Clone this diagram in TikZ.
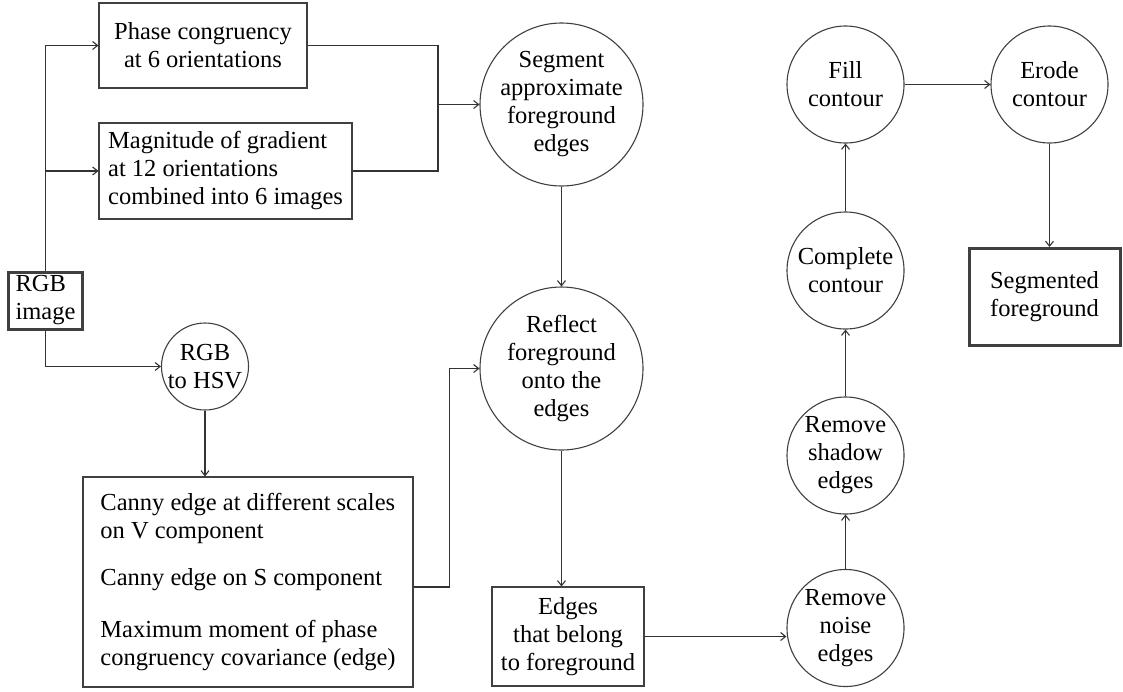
\documentclass[tikz,border=0pt]{standalone}
\usepackage{fontspec}
\setmainfont{Liberation Serif}
\usetikzlibrary{arrows.meta}
\begin{document}
\begin{tikzpicture}[x=1pt,y=-1pt,
  txt/.style={font=\fontsize{24.5}{28}\selectfont, text=black},
  box/.style={txt, draw=black!75, line width=1.1pt, inner sep=0pt, align=center},
  circ/.style={txt, draw=black!75, line width=1.1pt, circle, inner sep=0pt, align=center},
  conn/.style={draw=black!80, line width=1.1pt, -{Straight Barb[length=5pt,width=8pt]}},
  link/.style={draw=black!80, line width=1.1pt}
]
\useasboundingbox (0,0) rectangle (1123,691);

\node[box, minimum width=208, minimum height=85] (phase) at (203,45.5) {Phase congruency\\at 6 orientations};
\node[box, minimum width=253, minimum height=96, align=left] (mag) at (225.5,171) {Magnitude of gradient\\at 12 orientations\\combined into 6 images};
\node[box, line width=3pt, minimum width=74, minimum height=57, align=left] (rgb) at (45.5,300.5) {RGB\\image};
\node[box, minimum width=330, minimum height=210, align=left] (canny) at (248,582) {Canny edge at different scales\\on V component\\[19pt]Canny edge on S component\\[24pt]Maximum moment of phase\\congruency covariance (edge)};
\node[box, minimum width=152, minimum height=99] (edges) at (568,636.5) {Edges\\that belong\\to foreground};
\node[box, line width=3pt, minimum width=151, minimum height=97] (segf) at (1044.5,297) {Segmented\\foreground};

\node[circ, minimum size=163] (seg) at (561.5,104.5) {Segment\\approximate\\foreground\\edges};
\node[circ, minimum size=163] (refl) at (561.5,368.5) {Reflect\\foreground\\onto the\\edges};
\node[circ, minimum size=87] (hsv) at (205,366.5) {RGB\\to HSV};
\node[circ, minimum size=117] (noise) at (845.5,628) {Remove\\noise\\edges};
\node[circ, minimum size=117] (shadow) at (845.5,455.5) {Remove\\shadow\\edges};
\node[circ, minimum size=117] (complete) at (845.5,270.5) {Complete\\contour};
\node[circ, minimum size=117] (fill) at (845.5,84.5) {Fill\\contour};
\node[circ, minimum size=117] (erode) at (1049.5,84.5) {Erode\\contour};

\coordinate (j) at (438,104.5);
\draw[conn] (rgb.north) |- (phase.west);
\draw[conn] (rgb.north |- mag.west) -- (mag.west);
\draw[link] (phase.east) -| (j);
\draw[link] (mag.east) -| (j);
\draw[conn] (j) -- (seg.west);
\draw[conn] (rgb.south) |- (hsv.west);
\draw[conn] (hsv.south) -- (hsv.south |- canny.north);
\draw[conn] ([yshift=-5pt]canny.east) -- ++(36,0) |- (refl.west);
\draw[conn] (seg.south) -- (refl.north);
\draw[conn] (refl.south) -- (refl.south |- edges.north);
\draw[conn] (edges.east) -- (edges.east -| noise.west);
\draw[conn] (noise.north) -- (shadow.south);
\draw[conn] (shadow.north) -- (complete.south);
\draw[conn] (complete.north) -- (fill.south);
\draw[conn] (fill.east) -- (erode.west);
\draw[conn] (erode.south) -- (erode.south |- segf.north);
\end{tikzpicture}
\end{document}
